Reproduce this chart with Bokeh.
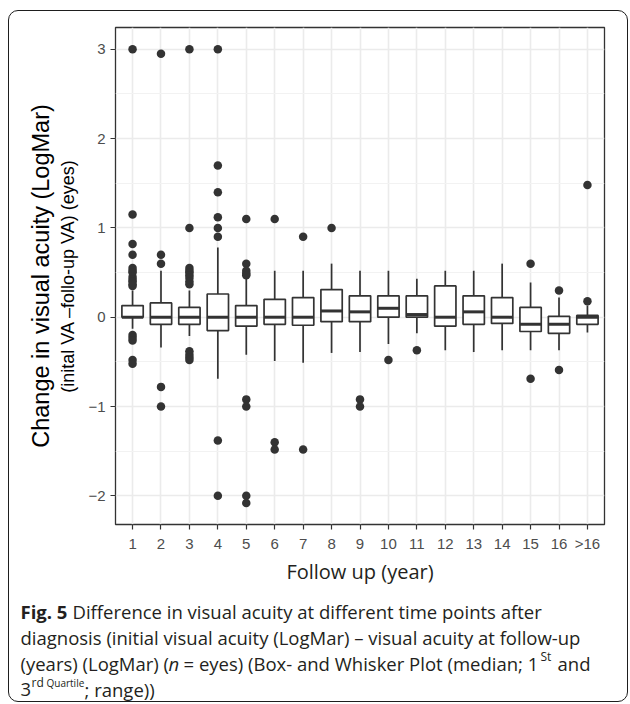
from bokeh.plotting import figure
from bokeh.layouts import column
from bokeh.models import (FactorRange, Range1d, FixedTicker, Label, LinearAxis,
                          ColumnDataSource)
from bokeh.embed import file_html
from bokeh.resources import INLINE

# ---------------- data ----------------
categories = ["1", "2", "3", "4", "5", "6", "7", "8", "9", "10",
              "11", "12", "13", "14", "15", "16", ">16"]
whisker_low = [-0.13, -0.34, -0.21, -0.69, -0.42, -0.49, -0.51, -0.40, -0.39,
               -0.30, -0.18, -0.37, -0.39, -0.37, -0.37, -0.37, -0.17]
q1 = [0.00, -0.08, -0.08, -0.15, -0.10, -0.08, -0.09, -0.05, -0.05,
      0.00, 0.00, -0.10, -0.08, -0.07, -0.16, -0.18, -0.08]
median = [0.00, 0.00, 0.00, 0.00, 0.00, 0.00, 0.00, 0.07, 0.06,
          0.10, 0.03, 0.00, 0.06, 0.00, -0.08, -0.08, 0.00]
q3 = [0.13, 0.16, 0.11, 0.26, 0.13, 0.20, 0.22, 0.31, 0.24,
      0.24, 0.24, 0.35, 0.24, 0.22, 0.11, 0.01, 0.02]
whisker_high = [0.30, 0.52, 0.30, 0.78, 0.44, 0.52, 0.52, 0.60, 0.52,
                0.52, 0.43, 0.52, 0.52, 0.60, 0.39, 0.22, 0.13]

outlier_category = (["1"] * 17 + ["2"] * 5 + ["3"] * 13 + ["4"] * 8 + ["5"] * 9
                    + ["6"] * 3 + ["7"] * 2 + ["8"] + ["9"] * 2 + ["10"] + ["11"]
                    + ["15"] * 2 + ["16"] * 2 + [">16"] * 2)
outlier_value = [3.00, 1.15, 0.82, 0.70, 0.55, 0.52, 0.50, 0.45, 0.42, 0.40, 0.37, 0.35,
                 -0.20, -0.23, -0.26, -0.48, -0.52,
                 2.95, 0.70, 0.60, -0.78, -1.00,
                 3.00, 1.00, 0.55, 0.52, 0.50, 0.47, 0.44, 0.40, 0.37,
                 -0.38, -0.42, -0.45, -0.48,
                 3.00, 1.70, 1.40, 1.12, 1.00, 0.90, -1.38, -2.00,
                 1.10, 0.60, 0.52, 0.49, 0.47, -0.92, -1.00, -2.00, -2.08,
                 1.10, -1.40, -1.48,
                 0.90, -1.48,
                 1.00,
                 -0.92, -1.00,
                 -0.48,
                 -0.37,
                 0.60, -0.69,
                 0.30, -0.59,
                 1.48, 0.18]

y_ticks = [-2, -1, 0, 1, 2, 3]
y_tick_labels = ["\u22122", "\u22121", "0", "1", "2", "3"]
y_minor_ticks = [-1.5, -0.5, 0.5, 1.5, 2.5]

y_title = "Change in visual acuity (LogMar)"
y_subtitle = "(inital VA \u2013follo-up VA) (eyes)"
x_title = "Follow up (year)"

# ---------------- layout constants ----------------
OFF_X, OFF_Y = 8, 10          # page offset of the whole (rounded frame)
W = 620
H_MAIN, H_CAP = 578, 114
ML, MR, MT, MB = 107, 24, 17, 64
dark = "#333333"
gridc = "#EBEBEB"
cap_font = "Open Sans"
CS = 18.5                      # caption font size

# ---------------- main figure ----------------
p = figure(width=W, height=H_MAIN, output_backend="svg", toolbar_location=None,
           x_range=FactorRange(*categories, range_padding=0.2 / len(categories)),
           y_range=Range1d(-2.321, 3.244),
           min_border_left=ML, min_border_right=MR, min_border_top=MT,
           min_border_bottom=MB)

p.background_fill_color = "white"
p.border_fill_alpha = 0
p.outline_line_color = dark
p.outline_line_width = 1.3

p.xgrid.grid_line_color = gridc
p.xgrid.grid_line_width = 1.6
p.ygrid.grid_line_color = gridc
p.ygrid.grid_line_width = 1.6
p.ygrid.minor_grid_line_color = "#F2F2F2"
p.ygrid.minor_grid_line_width = 1.0

p.yaxis.ticker = FixedTicker(ticks=y_ticks, minor_ticks=y_minor_ticks)
p.yaxis.major_label_overrides = {t: l for t, l in zip(y_ticks, y_tick_labels)}

for ax in (p.xaxis, p.yaxis):
    ax.axis_line_color = None
    ax.major_tick_line_color = dark
    ax.major_tick_line_width = 1.2
    ax.major_tick_out = 5
    ax.major_tick_in = 0
    ax.minor_tick_line_color = None
    ax.major_label_text_font = "Liberation Sans"
    ax.major_label_text_font_size = "15px"
    ax.major_label_text_color = "#4D4D4D"
    ax.major_label_standoff = 5
    ax.axis_label_text_font_style = "normal"
    ax.axis_label_text_color = "black"

p.yaxis.axis_label = y_subtitle
p.yaxis.axis_label_text_font = "Liberation Sans"
p.yaxis.axis_label_text_font_size = "18px"
p.yaxis.axis_label_standoff = 7

p.xaxis.axis_label = x_title
p.xaxis.axis_label_text_font = cap_font
p.xaxis.axis_label_text_font_size = "20px"
p.xaxis.axis_label_text_color = "#231F20"
p.xaxis.axis_label_standoff = 3

title_axis = LinearAxis(ticker=FixedTicker(ticks=[]), axis_label=y_title,
                        axis_line_color=None, major_tick_line_color=None,
                        minor_tick_line_color=None, major_tick_out=0,
                        major_tick_in=0, major_label_standoff=0,
                        axis_label_standoff=2,
                        axis_label_text_font="Liberation Sans",
                        axis_label_text_font_size="23.5px",
                        axis_label_text_font_style="normal",
                        axis_label_text_color="black")
p.add_layout(title_axis, "left")

# ---------------- boxplots ----------------
box_src = ColumnDataSource(dict(cat=categories, lo=whisker_low, q1=q1, med=median,
                                q3=q3, hi=whisker_high))
p.segment(x0="cat", y0="q3", x1="cat", y1="hi", source=box_src,
          line_color=dark, line_width=1.7)
p.segment(x0="cat", y0="q1", x1="cat", y1="lo", source=box_src,
          line_color=dark, line_width=1.7)
p.vbar(x="cat", width=0.75, bottom="q1", top="q3", source=box_src,
       fill_color="white", line_color=dark, line_width=1.7)
p.rect(x="cat", y="med", width=0.75, height=3, height_units="screen",
       source=box_src, fill_color=dark, line_color=None)

out_src = ColumnDataSource(dict(cat=outlier_category, val=outlier_value))
p.scatter(x="cat", y="val", source=out_src, size=8.5, fill_color=dark,
          line_color=None)

# ---------------- caption figure ----------------
CAP_TOP = OFF_Y + H_MAIN  # page y of caption figure top
cap = figure(width=W, height=H_CAP, output_backend="svg", toolbar_location=None,
             x_range=Range1d(0, W), y_range=Range1d(H_CAP, 0),
             x_axis_type=None, y_axis_type=None,
             min_border_left=0, min_border_right=0, min_border_top=0,
             min_border_bottom=0)
cap.outline_line_color = None
cap.grid.visible = False
cap.background_fill_alpha = 0
cap.border_fill_alpha = 0
for fig in (p, cap):
    try:
        fig.frame_align = False
    except Exception:
        pass


def lab(text, px, py, size, style="normal"):
    cap.add_layout(Label(x=px - OFF_X, y=py - CAP_TOP, text=text,
                         text_font=cap_font, text_font_size=f"{size}px",
                         text_font_style=style, text_align="left",
                         text_baseline="alphabetic", text_color="#231F20"))


B1, B2, B3, B4 = 611, 637, 663, 689
lab("Fig. 5", 20, B1, CS, style="bold")
lab("Difference in visual acuity at different time points after", 72, B1, CS)
lab("diagnosis (initial visual acuity (LogMar) \u2013 visual acuity at follow-up",
    20, B2, CS)
lab("(years) (LogMar) (", 20, B3, CS)
lab("n", 168, B3, CS, style="italic")
lab("= eyes) (Box- and Whisker Plot (median; 1", 183, B3, CS)
lab("St", 540, B3 - 7, 12)
lab("and", 557, B3, CS)
lab("3", 20, B4, CS)
lab("rd", 31, B4 - 7, 12)
lab("Quartile", 46, B4 - 7, 10)
lab("; range))", 84, B4, CS)

root = column(p, cap, margin=(OFF_Y, 0, 0, OFF_X),
              styles={"outline": "1.5px solid #1e1e1e", "outline-offset": "-1px",
                      "border-radius": "10px"})

open("out.html", "w").write(file_html(root, INLINE))
